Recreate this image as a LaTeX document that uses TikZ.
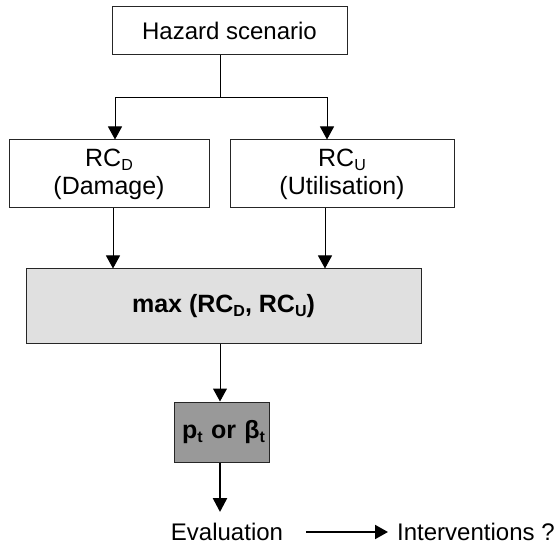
\documentclass[tikz,border=0pt]{standalone}
\usepackage{fontspec}
\setmainfont{Liberation Sans}
\usetikzlibrary{arrows.meta}
\begin{document}
\begin{tikzpicture}[x=1pt,y=-1pt,
    box/.style={draw=black!85,line width=1pt,inner sep=0pt,align=center,font=\fontsize{25}{28}\selectfont},
    link/.style={line width=1pt,-{Triangle[length=13pt,width=14pt]}},
    biglink/.style={line width=2.6pt,-{Triangle[length=14pt,width=14pt]}},
    label/.style={inner sep=0pt,font=\fontsize{24}{28}\selectfont}]
    \useasboundingbox (0,0) rectangle (560,548);
    \newcommand{\lowsub}[1]{\raisebox{-0.3ex}{\fontsize{16}{16}\selectfont #1}}

    \node[box,minimum width=235pt,minimum height=48pt,font=\fontsize{24}{28}\selectfont] (hazard) at (229.5,31) {Hazard scenario};
    \node[box,minimum width=200pt,minimum height=68pt] (rcd) at (109,174) {RC\lowsub{D}\\(Damage)};
    \node[box,minimum width=224pt,minimum height=68pt] (rcu) at (342,174) {RC\lowsub{U}\\(Utilisation)};
    \node[box,fill=black!12,minimum width=395pt,minimum height=74pt,font=\fontsize{25}{28}\selectfont\bfseries]
        (maxbox) at (223.5,306) {max (RC\lowsub{D}, RC\lowsub{U})};
    \node[box,fill=black!40,minimum height=60pt,text width=87pt,inner xsep=4pt,align=right,
        font=\fontsize{25}{28}\selectfont\bfseries] (ptbox) at (221.5,432) {p\lowsub{t} or β\lowsub{t}};

    \node[label] (eval) at (227,532) {Evaluation};
    \node[label,anchor=west] (interv) at (397,532) {Interventions ?};

    % split below the hazard box
    \coordinate (split) at (220,98);
    \coordinate (toD) at (115,98);
    \coordinate (toU) at (327,98);
    \draw[line width=1pt] (hazard.south -| split) -- (split);
    \draw[link] (split) -- (toD) -- (toD |- rcd.north);
    \draw[link] (split) -- (toU) -- (toU |- rcu.north);

    \draw[link] ([xshift=4pt]rcd.south) -- ([xshift=4pt]rcd.south |- maxbox.north);
    \draw[link] ([xshift=-17pt]rcu.south) -- ([xshift=-17pt]rcu.south |- maxbox.north);
    \draw[link] ([xshift=-3.5pt]maxbox.south) -- ([xshift=-3.5pt]maxbox.south |- ptbox.north);
    \draw[biglink] ([xshift=-1.5pt]ptbox.south) -- ([xshift=-1.5pt]ptbox.south |- 0,512);
    \draw[link,line width=2pt,shorten <=23pt,shorten >=9pt] (eval.east) -- (interv.west);
\end{tikzpicture}
\end{document}
